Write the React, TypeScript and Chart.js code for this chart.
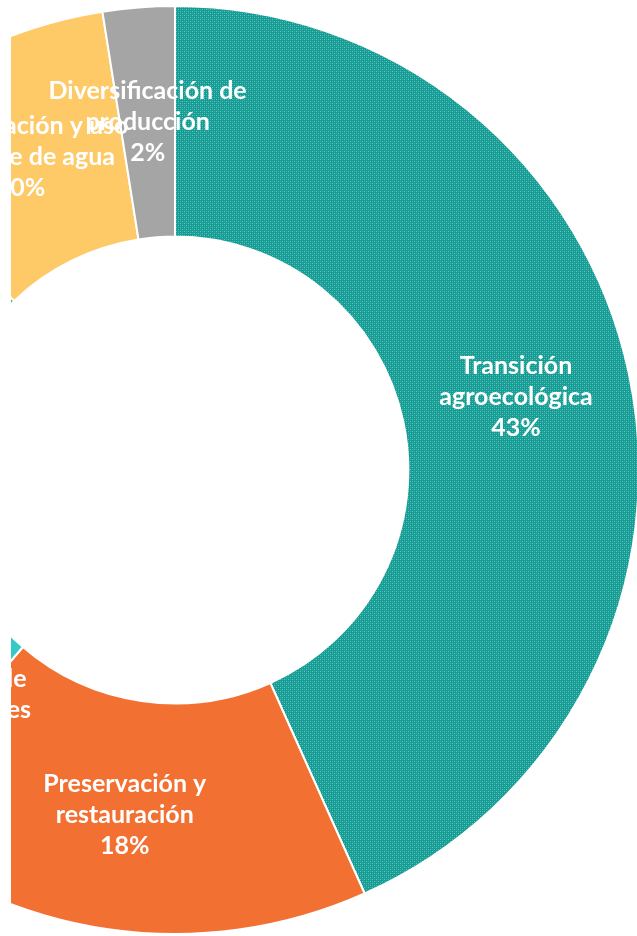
import React, { useEffect, useRef } from "react";
import { Chart, registerables } from "chart.js";

Chart.register(...registerables);

// Categories clockwise from 12 o'clock
const categories = [
  "Transición agroecológica",
  "Preservación y restauración",
  "Fortalecimiento de capacidades locales",
  "Gestión del conocimiento",
  "Comercialización y mercados",
  "Conservación y uso eficiente de agua",
  "Diversificación de producción",
];
const labelLines = [
  ["Transición", "agroecológica"],
  ["Preservación y", "restauración"],
  ["Fortalecimiento de", "capacidades locales"],
  ["Gestión del", "conocimiento"],
  ["Comercialización", "y mercados"],
  ["Conservación y uso", "eficiente de agua"],
  ["Diversificación de", "producción"],
];
const values = [43.3, 18.0, 3.2, 12.8, 10.6, 9.6, 2.5];
const pctLabels = ["43%", "18%", "3%", "13%", "11%", "10%", "2%"];

const FONT_SIZE = 25;
const LINE_H = 31;

function makeTealPattern(): CanvasPattern | string {
  const c = document.createElement("canvas");
  c.width = 4;
  c.height = 4;
  const g = c.getContext("2d");
  if (!g) return "#1FA39A";
  g.fillStyle = "#169C94";
  g.fillRect(0, 0, 4, 4);
  g.fillStyle = "#62C6BF";
  g.fillRect(0, 0, 1, 1);
  g.fillRect(2, 2, 1, 1);
  g.fillStyle = "#3AB0A8";
  g.fillRect(2, 0, 1, 1);
  g.fillRect(0, 2, 1, 1);
  const p = g.createPattern(c, "repeat");
  return p || "#1FA39A";
}

const labelPlugin = {
  id: "sliceLabels",
  afterDatasetsDraw(chart: any) {
    const ctx = chart.ctx as CanvasRenderingContext2D;
    const meta = chart.getDatasetMeta(0);
    ctx.save();
    ctx.font = `bold ${FONT_SIZE}px Lato`;
    ctx.fillStyle = "#ffffff";
    ctx.textAlign = "center";
    ctx.textBaseline = "middle";
    meta.data.forEach((arc: any, i: number) => {
      const pos = arc.tooltipPosition(true);
      const lines = [...labelLines[i], pctLabels[i]];
      const n = lines.length;
      lines.forEach((ln, j) => {
        ctx.fillText(ln, pos.x, pos.y + (j - (n - 1) / 2) * LINE_H);
      });
    });
    ctx.restore();
  },
};

export default function App() {
  const ref = useRef<HTMLCanvasElement | null>(null);

  useEffect(() => {
    if (!ref.current) return;
    const teal = makeTealPattern();
    const colors: any[] = [teal, "#F27132", "#33C9C9", "#5B9BD5", "#70AD47", "#FECA68", "#A5A5A5"];
    const chart = new Chart(ref.current, {
      type: "doughnut",
      data: {
        labels: categories,
        datasets: [
          {
            data: values,
            backgroundColor: colors,
            borderColor: "#ffffff",
            borderWidth: 2,
          },
        ],
      },
      options: {
        responsive: false,
        maintainAspectRatio: false,
        animation: false,
        devicePixelRatio: 1,
        cutout: "50.3%",
        layout: { padding: 0 },
        plugins: {
          legend: { display: false },
          tooltip: { enabled: false },
        },
      },
      plugins: [labelPlugin],
    });
    return () => chart.destroy();
  }, []);

  return (
    <div
      style={{
        position: "absolute",
        left: 11,
        top: 0,
        width: 626,
        height: 936,
        overflow: "hidden",
        background: "#ffffff",
      }}
    >
      <canvas
        ref={ref}
        width={930}
        height={930}
        style={{ position: "absolute", left: -301, top: 5, width: 930, height: 930 }}
      />
    </div>
  );
}
